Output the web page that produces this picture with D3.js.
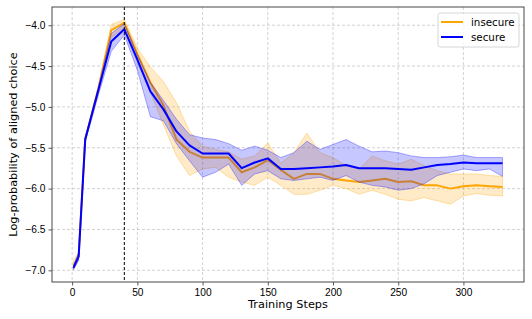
<!DOCTYPE html>
<html>
<head>
<meta charset="utf-8">
<script src="https://cdn.jsdelivr.net/npm/d3@7"></script>
<style>
  body { margin: 0; background: #fff; }
  svg { font-family: "DejaVu Sans", sans-serif; }
</style>
</head>
<body>
<div id="chart"></div>
<script>
// training steps (x)
var steps = [1, 5, 10, 20, 30, 40, 50, 60, 70, 80, 90, 100, 110, 120, 130, 140, 150, 160, 170, 180,
  190, 200, 210, 220, 230, 240, 250, 260, 270, 280, 290, 300, 310, 320, 330];

// insecure: mean and band
var insecureMean = [-6.95, -6.82, -5.40, -4.78, -4.06, -3.97, -4.35, -4.70, -4.98, -5.40, -5.55, -5.62, -5.62, -5.62,
  -5.80, -5.74, -5.65, -5.77, -5.88, -5.82, -5.82, -5.88, -5.90, -5.92, -5.90, -5.88, -5.92, -5.91, -5.96, -5.96,
  -6.00, -5.97, -5.96, -5.97, -5.98];
var insecureHigh = [-6.88, -6.78, -5.37, -4.75, -3.99, -3.93, -4.28, -4.51, -4.69, -4.95, -5.30, -5.48, -5.52, -5.55,
  -5.64, -5.60, -5.44, -5.69, -5.56, -5.32, -5.56, -5.62, -5.72, -5.76, -5.60, -5.66, -5.70, -5.64, -5.72, -5.78,
  -5.82, -5.82, -5.82, -5.84, -5.85];
var insecureLow = [-6.99, -6.87, -5.43, -4.83, -4.15, -4.04, -4.45, -4.82, -5.22, -5.60, -5.84, -5.76, -5.74, -5.86,
  -5.92, -5.96, -5.86, -5.96, -6.07, -6.07, -6.02, -5.96, -6.00, -6.07, -6.02, -6.07, -6.13, -6.15, -6.11, -6.15,
  -6.19, -6.09, -6.06, -6.08, -6.09];

// secure: mean and band
var secureMean = [-6.97, -6.83, -5.40, -4.80, -4.20, -4.05, -4.42, -4.81, -5.03, -5.30, -5.47, -5.57, -5.57, -5.57,
  -5.75, -5.68, -5.63, -5.76, -5.76, -5.75, -5.74, -5.73, -5.71, -5.75, -5.75, -5.75, -5.76, -5.77, -5.74, -5.71,
  -5.70, -5.68, -5.69, -5.69, -5.69];
var secureHigh = [-6.94, -6.78, -5.37, -4.77, -4.10, -3.98, -4.36, -4.70, -4.92, -5.15, -5.34, -5.38, -5.40, -5.45,
  -5.53, -5.48, -5.53, -5.62, -5.56, -5.42, -5.52, -5.46, -5.40, -5.48, -5.55, -5.54, -5.56, -5.60, -5.62, -5.62,
  -5.61, -5.59, -5.62, -5.62, -5.62];
var secureLow = [-6.99, -6.88, -5.43, -4.86, -4.32, -4.12, -4.55, -5.12, -5.17, -5.45, -5.66, -5.86, -5.80, -5.70,
  -5.96, -5.82, -5.78, -5.88, -5.90, -5.88, -5.86, -5.90, -5.84, -5.92, -5.96, -5.98, -6.02, -6.00, -5.94, -5.84,
  -5.80, -5.76, -5.78, -5.76, -5.85];

var xTicks = [0, 50, 100, 150, 200, 250, 300];
var yTicks = [-7.0, -6.5, -6.0, -5.5, -5.0, -4.5, -4.0];
var markerStep = 40;

var series = [
  {name: "insecure", color: "orange", mean: insecureMean, low: insecureLow, high: insecureHigh},
  {name: "secure", color: "blue", mean: secureMean, low: secureLow, high: secureHigh}
];

var W = 532, H = 319;
var margin = {top: 7, right: 8, bottom: 37, left: 52};
var width = W - margin.left - margin.right;
var height = H - margin.top - margin.bottom;

var svg = d3.select("#chart").append("svg")
    .attr("width", W)
    .attr("height", H);
var g = svg.append("g")
    .attr("transform", "translate(" + margin.left + "," + margin.top + ")");

// matplotlib style 5% padding
var xe = d3.extent(steps);
var xPad = (xe[1] - xe[0]) * 0.05;
var x = d3.scaleLinear().domain([xe[0] - xPad, xe[1] + xPad]).range([0, width]);

var allY = [].concat(insecureLow, insecureHigh, secureLow, secureHigh);
var ye = d3.extent(allY);
var yPad = (ye[1] - ye[0]) * 0.05;
var y = d3.scaleLinear().domain([ye[0] - yPad, ye[1] + yPad]).range([height, 0]);

var fmt = function(d) { return d3.format(".1f")(d).replace("-", "\u2212"); };

// grid
g.append("g").selectAll("line").data(xTicks).enter().append("line")
    .attr("x1", function(d) { return x(d); }).attr("x2", function(d) { return x(d); })
    .attr("y1", 0).attr("y2", height)
    .attr("stroke", "#b0b0b0").attr("stroke-opacity", 0.7)
    .attr("stroke-width", 0.8).attr("stroke-dasharray", "3,2");
g.append("g").selectAll("line").data(yTicks).enter().append("line")
    .attr("y1", function(d) { return y(d); }).attr("y2", function(d) { return y(d); })
    .attr("x1", 0).attr("x2", width)
    .attr("stroke", "#b0b0b0").attr("stroke-opacity", 0.7)
    .attr("stroke-width", 0.8).attr("stroke-dasharray", "3,2");

var area = d3.area()
    .x(function(d, i) { return x(steps[i]); })
    .y0(function(d) { return y(d[0]); })
    .y1(function(d) { return y(d[1]); });
var line = d3.line()
    .x(function(d, i) { return x(steps[i]); })
    .y(function(d) { return y(d); });

series.forEach(function(s) {
  var band = s.low.map(function(v, i) { return [v, s.high[i]]; });
  g.append("path")
      .datum(band)
      .attr("d", area)
      .attr("fill", s.color)
      .attr("fill-opacity", 0.22)
      .attr("stroke", s.color)
      .attr("stroke-opacity", 0.4)
      .attr("stroke-width", 0.8);
  g.append("path")
      .datum(s.mean)
      .attr("d", line)
      .attr("fill", "none")
      .attr("stroke", s.color)
      .attr("stroke-width", 2)
      .attr("stroke-linejoin", "round");
});

// dashed marker
g.append("line")
    .attr("x1", x(markerStep)).attr("x2", x(markerStep))
    .attr("y1", 0).attr("y2", height)
    .attr("stroke", "#000").attr("stroke-width", 1)
    .attr("stroke-dasharray", "3,2");

// axes
var xAxis = d3.axisBottom(x).tickValues(xTicks).tickSize(3.5).tickPadding(3);
var yAxis = d3.axisLeft(y).tickValues(yTicks).tickFormat(fmt).tickSize(3.5).tickPadding(3);

g.append("g")
    .attr("transform", "translate(0," + height + ")")
    .call(xAxis)
    .call(function(a) { a.select(".domain").remove(); })
    .selectAll("text").attr("font-size", 10.2).attr("fill", "#000");
g.append("g")
    .call(yAxis)
    .call(function(a) { a.select(".domain").remove(); })
    .selectAll("text").attr("font-size", 10.2).attr("fill", "#000");
g.selectAll(".tick line").attr("stroke", "#333").attr("stroke-width", 0.8);

// frame
g.append("rect")
    .attr("x", 0).attr("y", 0).attr("width", width).attr("height", height)
    .attr("fill", "none").attr("stroke", "#333").attr("stroke-width", 0.9);

// labels
svg.append("text")
    .attr("x", margin.left + width / 2).attr("y", 308)
    .attr("text-anchor", "middle").attr("font-size", 11.3)
    .text("Training Steps");
svg.append("text")
    .attr("transform", "translate(17," + (margin.top + height / 2) + ") rotate(-90)")
    .attr("text-anchor", "middle").attr("font-size", 11.3)
    .text("Log-probability of aligned choice");

// legend
var lg = svg.append("g").attr("transform", "translate(438,13)");
lg.append("rect")
    .attr("width", 81).attr("height", 34).attr("rx", 2.5)
    .attr("fill", "#fff").attr("fill-opacity", 0.8)
    .attr("stroke", "#ccc").attr("stroke-width", 0.8);
series.forEach(function(s, i) {
  var yy = 9 + i * 15;
  lg.append("line")
      .attr("x1", 3).attr("x2", 25).attr("y1", yy).attr("y2", yy)
      .attr("stroke", s.color).attr("stroke-width", 2);
  lg.append("text")
      .attr("x", 33).attr("y", yy + 3.6)
      .attr("font-size", 10.3)
      .text(s.name);
});
</script>
</body>
</html>
